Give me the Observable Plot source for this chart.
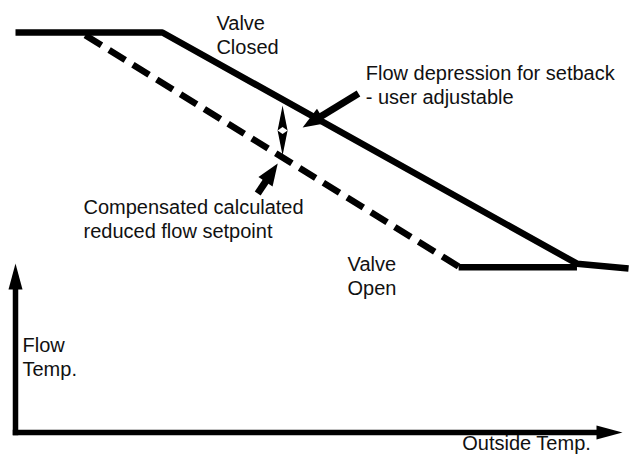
<!DOCTYPE html>
<html><head><meta charset="utf-8">
<script src="https://cdn.jsdelivr.net/npm/d3@7"></script>
<script src="https://cdn.jsdelivr.net/npm/@observablehq/plot@0.6"></script>
<style>
html,body{margin:0;padding:0;background:#fff;}
#chart{width:634px;height:455px;overflow:hidden;}
</style></head><body><div id="chart"></div>
<script>
// ---- data (outside temperature vs flow temperature, schematic units 0..100) ----
const setpointOutside = [0, 24.2, 92.5, 101];
const setpointFlow    = [100, 100, 42.2, 41];
const reducedOutside  = [11.5, 73];
const reducedFlow     = [99.3, 41.5];
const openOutside     = [73, 92.5];
const openFlow        = [41.3, 41.3];

// arrows: axes and pointers (tail -> tip)
const arrowNames = ["flowAxis", "outsideAxis", "depression", "compensated"];
const arrowX1 = [0, 0, 56.5, 39.9];
const arrowY1 = [0, 0, 84.75, 59.75];
const arrowX2 = [0, 100, 47.3, 43.2];
const arrowY2 = [42.25, 0, 76.25, 67.25];

// double arrow showing the depression between the two curves
const spanOutside = [44];
const spanTop = [81.75];
const spanBottom = [69.25];

// labels
const labelText = ["Valve\nClosed", "Valve\nOpen", "Flow depression for setback\n- user adjustable", "Compensated calculated\nreduced flow setpoint", "Flow\nTemp.", "Outside Temp."];
const labelOutside = [33.1, 54.7, 57.7, 11.2, 1.15, 73.6];
const labelFlow = [94.75, 34.5, 82.25, 48.75, 14.25, -4.4];

// ---- scales ----
const xDomain = [0, 100], xRange = [15, 622];
const yDomain = [0, 100], yRange = [432, 32];
const sx = d3.scaleLinear(xDomain, xRange);
const sy = d3.scaleLinear(yDomain, yRange);

function headSymbol(len, wid) {
  return {draw(ctx) {
    ctx.moveTo(0, 0);
    ctx.lineTo(wid / 2, len);
    ctx.lineTo(-wid / 2, len);
    ctx.closePath();
  }};
}
const axisHead = headSymbol(26, 14);
const pointerHead = headSymbol(22, 17);
const spanHead = headSymbol(25, 10);
const spanMid = {draw(ctx) { ctx.moveTo(-5, 0); ctx.lineTo(0, -3.5); ctx.lineTo(5, 0); ctx.lineTo(0, 3.5); ctx.closePath(); }};

function buildArrows(idx, headLen) {
  return idx.map(i => {
    const px1 = sx(arrowX1[i]), py1 = sy(arrowY1[i]);
    const px2 = sx(arrowX2[i]), py2 = sy(arrowY2[i]);
    const dx = px2 - px1, dy = py2 - py1, d = Math.hypot(dx, dy);
    const ux = dx / d, uy = dy / d;
    const bx = px2 - ux * headLen * 0.6, by = py2 - uy * headLen * 0.6;
    return {name: arrowNames[i], x1: arrowX1[i], y1: arrowY1[i], x2: arrowX2[i], y2: arrowY2[i],
      sx2: sx.invert(bx), sy2: sy.invert(by), angle: Math.atan2(dx, -dy) * 180 / Math.PI};
  });
}
const axisArrows = buildArrows([0, 1], 26);
const pointerArrows = buildArrows([2, 3], 22);

const spanMidFlow = (spanTop[0] + spanBottom[0]) / 2;
const spanHeads = [
  {x: spanOutside[0], y: spanTop[0], angle: 0},
  {x: spanOutside[0], y: spanBottom[0], angle: 180}
];

const setpoint = setpointOutside.map((x, i) => ({x, y: setpointFlow[i]}));
const reduced = reducedOutside.map((x, i) => ({x, y: reducedFlow[i]}));
const open = openOutside.map((x, i) => ({x, y: openFlow[i]}));
const labels = labelText.map((t, i) => ({t, x: labelOutside[i], y: labelFlow[i]}));

const chart = Plot.plot({
  width: 634,
  height: 455,
  margin: 0,
  x: {domain: xDomain, range: xRange, axis: null},
  y: {domain: yDomain, range: yRange, axis: null},
  style: {fontFamily: "'Liberation Sans', Arial, Helvetica, sans-serif", background: "white", color: "black"},
  marks: [
    // axes
    Plot.link(axisArrows, {x1: "x1", y1: "y1", x2: "sx2", y2: "sy2", stroke: "black", strokeWidth: 5.5, strokeLinecap: "square"}),
    Plot.dot(axisArrows, {x: "x2", y: "y2", symbol: axisHead, rotate: "angle", fill: "black", stroke: "none", r: 10}),
    // curves
    Plot.line(reduced, {x: "x", y: "y", stroke: "black", strokeWidth: 6.5, strokeDasharray: "19,9", strokeLinecap: "butt"}),
    Plot.line(open, {x: "x", y: "y", stroke: "black", strokeWidth: 6.5, strokeLinecap: "butt"}),
    Plot.line(setpoint, {x: "x", y: "y", stroke: "black", strokeWidth: 6.5, strokeLinejoin: "miter", strokeLinecap: "butt"}),
    // pointer arrows
    Plot.link(pointerArrows, {x1: "x1", y1: "y1", x2: "sx2", y2: "sy2", stroke: "black", strokeWidth: 7, strokeLinecap: "butt"}),
    Plot.dot(pointerArrows, {x: "x2", y: "y2", symbol: pointerHead, rotate: "angle", fill: "black", stroke: "none", r: 10}),
    // double arrow
    Plot.dot(spanHeads, {x: "x", y: "y", symbol: spanHead, rotate: "angle", fill: "black", stroke: "none", r: 10}),
    Plot.dot([{x: spanOutside[0], y: spanMidFlow}], {x: "x", y: "y", symbol: spanMid, fill: "white", stroke: "none", r: 5}),
    // labels
    Plot.text(labels, {x: "x", y: "y", text: "t", textAnchor: "start", lineAnchor: "bottom", lineHeight: 1.17, fontSize: 20, fill: "#111"})
  ]
});
document.getElementById("chart").appendChild(chart);
</script>
</body></html>
